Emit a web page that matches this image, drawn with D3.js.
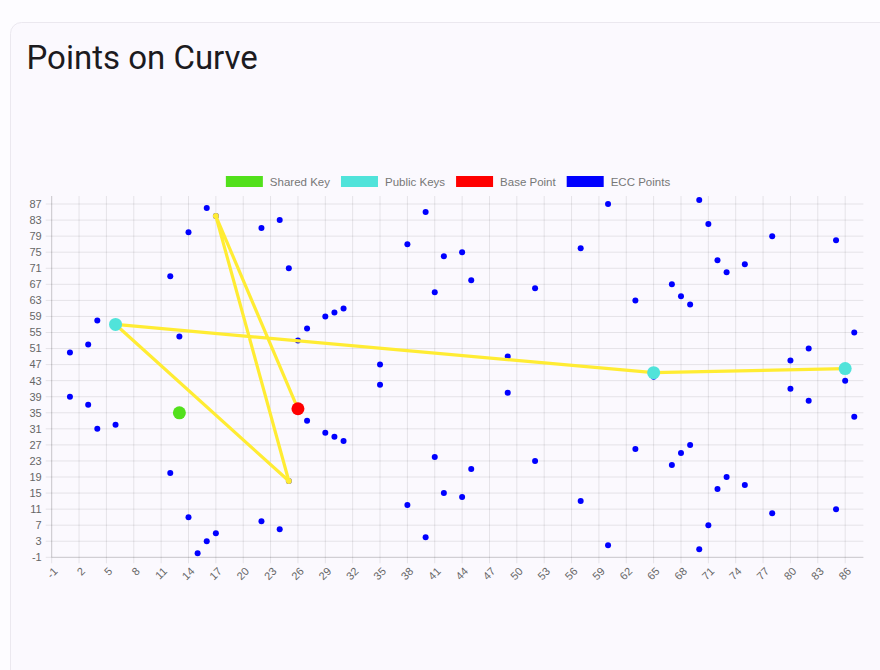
<!DOCTYPE html>
<html>
<head>
<meta charset="utf-8">
<script src="https://cdn.jsdelivr.net/npm/d3@7/dist/d3.min.js"></script>
<style>
  html, body { margin: 0; padding: 0; background: #fdfcff; }
  svg { display: block; }
</style>
</head>
<body>
<svg id="chart" width="880" height="670"></svg>
<script>
// ---- data (points on y^2 = x^3 + 7 over F_89) ----
const eccX = [1,1,3,3,4,4,6,6,12,12,13,13,14,14,15,16,16,17,17,22,22,24,24,25,25,26,26,27,27,29,29,30,30,31,31,35,35,38,38,40,40,41,41,42,42,44,44,45,45,49,49,52,52,57,57,60,60,63,63,65,65,67,67,68,68,69,69,70,70,71,71,72,72,73,73,75,75,78,78,80,80,82,82,85,85,86,86,87,87];
const eccY = [39,50,37,52,31,58,32,57,20,69,35,54,9,80,0,3,86,5,84,8,81,6,83,18,71,36,53,33,56,30,59,29,60,28,61,42,47,12,77,4,85,24,65,15,74,14,75,21,68,40,49,23,66,13,76,2,87,26,63,44,45,22,67,25,64,27,62,1,88,7,82,16,73,19,70,17,72,10,79,41,48,38,51,11,78,43,46,34,55];
const pathX = [26,17,25,6,65,86];
const pathY = [36,84,18,57,45,46];
const baseX = [26], baseY = [36];
const pubX = [6,65,86], pubY = [57,45,46];
const sharedX = [13], sharedY = [35];
const xTicks = d3.range(-1, 87, 3);
const yTicks = d3.range(-1, 88, 4);
const legendLabels = ["Shared Key", "Public Keys", "Base Point", "ECC Points"];
const legendColors = ["#52e01c", "#50e3da", "#ff0000", "#0000ff"];
const title = "Points on Curve";

// ---- layout ----
const svg = d3.select("#chart");
const L = 51.7, R = 863.4, T = 196, B = 557.3;
const x = d3.scaleLinear().domain([-1, 88]).range([L, R]);
const y = d3.scaleLinear().domain([-1, 89]).range([B, T]);

// card
svg.append("rect").attr("x", 10.5).attr("y", 22.5).attr("width", 900).attr("height", 700)
  .attr("rx", 11).attr("fill", "#fbf9fe").attr("stroke", "#ebe8ef");

svg.append("text").attr("x", 26.5).attr("y", 69).text(title)
  .attr("font-family", "Roboto, sans-serif").attr("font-size", 33).attr("fill", "#1c1b1f");

// grid
const g = svg.append("g");
g.selectAll("line.vx").data(xTicks).join("line")
  .attr("x1", d => x(d)).attr("x2", d => x(d)).attr("y1", T).attr("y2", B + 6)
  .attr("stroke", "rgba(0,0,0,0.09)").attr("stroke-width", 1);
g.selectAll("line.hy").data(yTicks).join("line")
  .attr("y1", d => y(d)).attr("y2", d => y(d)).attr("x1", L - 6).attr("x2", R)
  .attr("stroke", "rgba(0,0,0,0.09)").attr("stroke-width", 1);
g.append("line").attr("x1", L).attr("x2", L).attr("y1", T).attr("y2", B).attr("stroke", "rgba(0,0,0,0.13)");
g.append("line").attr("x1", L).attr("x2", R).attr("y1", B).attr("y2", B).attr("stroke", "rgba(0,0,0,0.13)");

// tick labels
const tickFont = "'Liberation Sans', Arial, sans-serif";
g.selectAll("text.yt").data(yTicks).join("text")
  .attr("x", L - 10).attr("y", d => y(d)).attr("dy", "0.35em")
  .attr("text-anchor", "end").attr("font-family", tickFont).attr("font-size", 11)
  .attr("fill", "#666").text(d => d);
g.selectAll("text.xt").data(xTicks).join("text")
  .attr("transform", d => `translate(${x(d) + 4},${B + 12}) rotate(-45)`)
  .attr("dy", "0.35em")
  .attr("text-anchor", "end").attr("font-family", tickFont).attr("font-size", 11)
  .attr("fill", "#666").text(d => d);

// ECC points
const ecc = eccX.map((v, i) => [v, eccY[i]]);
svg.append("g").selectAll("circle").data(ecc).join("circle")
  .attr("cx", d => x(d[0])).attr("cy", d => y(d[1])).attr("r", 3)
  .attr("fill", "#0000ff");

// path line
const pathPts = pathX.map((v, i) => [v, pathY[i]]);
svg.append("path").datum(pathPts)
  .attr("d", d3.line().x(d => x(d[0])).y(d => y(d[1])))
  .attr("fill", "none").attr("stroke", "#ffec33").attr("stroke-width", 3.2)
  .attr("stroke-linejoin", "round");
svg.append("g").selectAll("circle").data(pathPts).join("circle")
  .attr("cx", d => x(d[0])).attr("cy", d => y(d[1])).attr("r", 3)
  .attr("fill", "#ffec33");

// base point
svg.append("g").selectAll("circle").data(baseX.map((v, i) => [v, baseY[i]])).join("circle")
  .attr("cx", d => x(d[0])).attr("cy", d => y(d[1])).attr("r", 6.5)
  .attr("fill", legendColors[2]);
// public keys
svg.append("g").selectAll("circle").data(pubX.map((v, i) => [v, pubY[i]])).join("circle")
  .attr("cx", d => x(d[0])).attr("cy", d => y(d[1])).attr("r", 6.5)
  .attr("fill", legendColors[1]);
// shared key
svg.append("g").selectAll("circle").data(sharedX.map((v, i) => [v, sharedY[i]])).join("circle")
  .attr("cx", d => x(d[0])).attr("cy", d => y(d[1])).attr("r", 6.5)
  .attr("fill", legendColors[0]);

// legend
const lg = svg.append("g");
const boxW = 37, boxH = 11, gapBT = 7, gapItem = 11, legY = 176;
const items = legendLabels.map((lab, i) => {
  const it = lg.append("g");
  it.append("rect").attr("width", boxW).attr("height", boxH).attr("fill", legendColors[i]);
  const t = it.append("text").attr("x", boxW + gapBT).attr("y", boxH / 2).attr("dy", "0.35em")
    .attr("font-family", tickFont).attr("font-size", 11.5).attr("fill", "#777").text(lab);
  return { it, w: boxW + gapBT + t.node().getComputedTextLength() };
});
const total = d3.sum(items, d => d.w) + gapItem * (items.length - 1);
let cx = 448 - total / 2;
items.forEach(d => { d.it.attr("transform", `translate(${cx},${legY})`); cx += d.w + gapItem; });
</script>
</body>
</html>
